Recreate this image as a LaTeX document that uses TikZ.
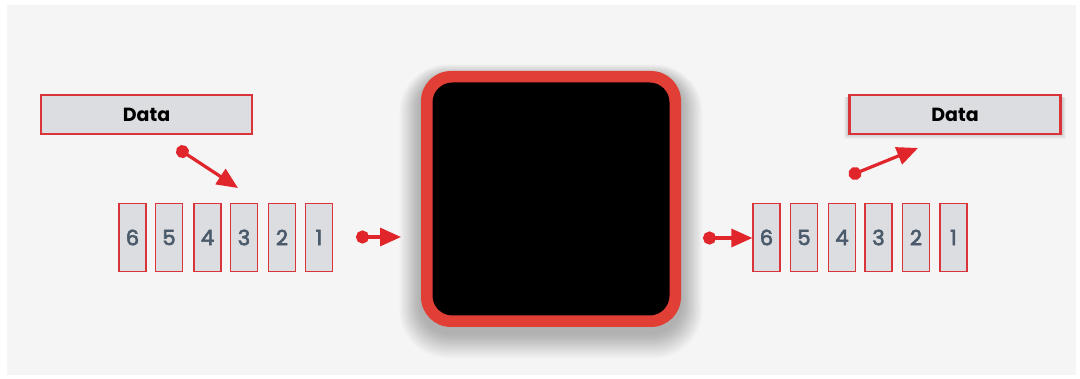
\documentclass[tikz,border=0pt]{standalone}
\usepackage{fontspec}
\setmainfont{Poppins}
\newfontfamily\digitfont[FakeBold=3]{Poppins}
\usetikzlibrary{arrows.meta}
\definecolor{bg}{HTML}{F5F5F5}
\definecolor{boxred}{HTML}{D8343A}
\definecolor{boxfill}{HTML}{DCDDE0}
\definecolor{bigred}{HTML}{E13F35}
\definecolor{arrred}{HTML}{E0262B}
\definecolor{digit}{HTML}{4A5A6B}
\tikzset{
  databox/.style={draw=boxred, line width=2.4pt, fill=boxfill, minimum width=211pt, minimum height=39pt, inner sep=0pt, font=\fontsize{19}{22}\selectfont\bfseries},
  numbox/.style={draw=boxred, line width=1.3pt, fill=boxfill, minimum width=27pt, minimum height=68pt, inner sep=0pt, text=digit, font=\digitfont\fontsize{21}{24}\selectfont},
  flow/.style={draw=arrred, line width=3.2pt, {Circle[length=13pt,width=13pt]}-{Triangle[length=21pt,width=18pt]}},
}
\begin{document}
\begin{tikzpicture}[x=1pt,y=-1pt]
\useasboundingbox (0,0) rectangle (1080,379);
\fill[white] (0,0) rectangle (1080,379);
\fill[bg] (7,5) rectangle (1076,375);
% soft shadow of the central box
\foreach \i in {1,...,18}{
  \fill[black, opacity=0.016, rounded corners={30pt+\i*1pt}]
    ({421-\i*1.2},{71+6-\i*0.7}) rectangle ({681+\i*1.2},{327+6+\i*1.4});
}
% central box
\node[fill=bigred, rounded corners=30pt, minimum width=260pt, minimum height=256pt, inner sep=0pt] (core) at (551,199) {};
\node[fill=black, rounded corners=20pt, minimum width=237pt, minimum height=233pt, inner sep=0pt] (inner) at (core.center) {};
% shadow of right data box
\foreach \i in {1,...,5}{
  \fill[black, opacity=0.03] ({848-\i*0.8},{97}) rectangle ({1062+\i*0.8},{134+\i*1});
}
% data boxes
\node[databox] (din) at (146.5,114.5) {Data};
\node[databox] (dout) at (955,114.5) {Data};
% left packets
\foreach \n/\x in {6/132.5,5/169,4/207.5,3/244,2/282,1/319}
  \node[numbox] (l\n) at (\x,237.5) {\n};
% right packets
\foreach \n/\x in {6/766.5,5/804,4/842,3/878.5,2/916,1/953.5}
  \node[numbox] (r\n) at (\x,237.5) {\n};
% arrows
\coordinate (a1s) at (177,148);
\coordinate (a1e) at (238,188);
\draw[flow] (a1s) -- (a1e);
\coordinate (a2s) at (356,237);
\coordinate (a2e) at (401,237);
\draw[flow] (a2s) -- (a2e);
\coordinate (a3s) at (703,238);
\draw[flow] (a3s) -- (r6.west |- a3s);
\coordinate (a4s) at (849,176);
\coordinate (a4e) at (918,148);
\draw[flow] (a4s) -- (a4e);
\end{tikzpicture}
\end{document}
